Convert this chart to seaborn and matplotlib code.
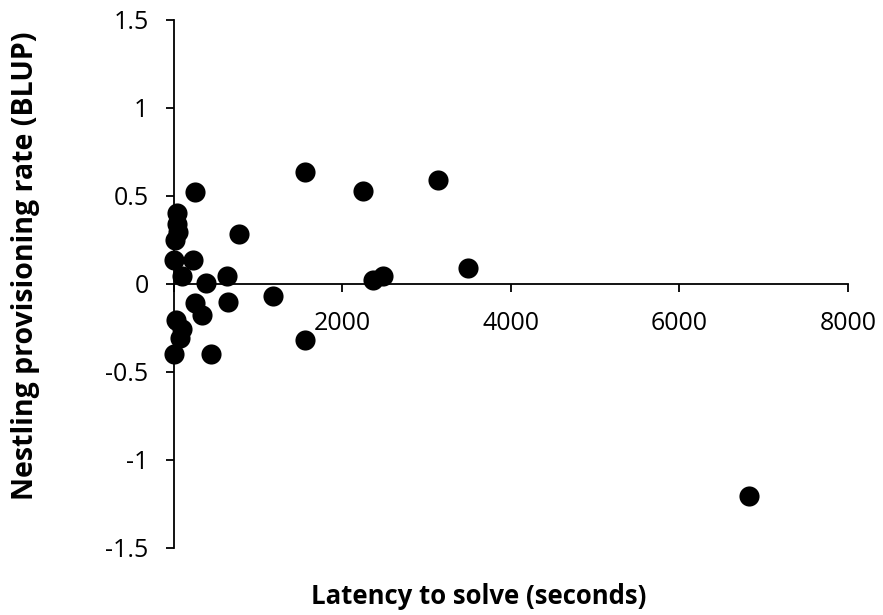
import matplotlib
matplotlib.use("Agg")
import matplotlib.pyplot as plt
import seaborn as sns
import pandas as pd

latency = [1560, 2252, 3141, 3497, 2370, 2489, 1560, 1177, 255, 781,
           631, 650, 382, 235, 255, 342, 450, 95, 10, 10,
           77, 105, 30, 20, 57, 38, 45, 6820]
provisioning = [0.635, 0.526, 0.588, 0.086, 0.020, 0.043, -0.320, -0.071, 0.520, 0.281,
                0.043, -0.103, 0.005, 0.134, -0.110, -0.180, -0.400, 0.040, 0.134, -0.400,
                -0.310, -0.260, -0.207, 0.245, 0.290, 0.340, 0.400, -1.207]
x_ticks = [0, 2000, 4000, 6000, 8000]
y_ticks = [-1.5, -1, -0.5, 0, 0.5, 1, 1.5]
y_tick_labels = ["-1.5", "-1", "-0.5", "0", "0.5", "1", "1.5"]

df = pd.DataFrame({"latency": latency, "provisioning": provisioning})

sns.set_theme(style="white")
plt.rcParams["font.family"] = ["Open Sans", "DejaVu Sans"]

fig = plt.figure(figsize=(8.83, 6.15), dpi=100)
ax = fig.add_axes([173.5 / 883, 1 - 547.5 / 615, 674.5 / 883, 528 / 615])

sns.scatterplot(data=df, x="latency", y="provisioning", ax=ax,
                color="black", s=210, edgecolor="black", linewidth=0, zorder=3,
                clip_on=False)

ax.set_xlim(0, 8000)
ax.set_ylim(-1.5, 1.5)
ax.set_xticks(x_ticks)
ax.set_xticklabels([str(t) for t in x_ticks])
ax.set_yticks(y_ticks)
ax.set_yticklabels(y_tick_labels)

for side in ["top", "right"]:
    ax.spines[side].set_visible(False)
ax.spines["left"].set_position(("data", 0))
ax.spines["bottom"].set_position(("data", 0))
for side in ["left", "bottom"]:
    ax.spines[side].set_color("black")
    ax.spines[side].set_linewidth(1.3)
    ax.spines[side].set_zorder(2)

ax.tick_params(axis="both", which="major", direction="out", length=6,
               width=1.3, color="black", labelsize=18, labelcolor="black",
               bottom=True, left=True)
ax.tick_params(axis="y", pad=12)
ax.tick_params(axis="x", pad=14)
ax.grid(False)

ax.set_xlabel("Latency to solve (seconds)", fontsize=18.5, fontweight="bold", color="black")
ax.set_ylabel("Nestling provisioning rate (BLUP)", fontsize=20.5, fontweight="bold", color="black")
ax.xaxis.label.set_verticalalignment("center")
ax.yaxis.label.set_verticalalignment("center")
ax.xaxis.set_label_coords((478.5 - 173.5) / 674.5, (547.5 - 596.7) / 528)
ax.yaxis.set_label_coords((26 - 173.5) / 674.5, (547.5 - 266) / 528)

fig.savefig("out.png", dpi=100, facecolor="white")
